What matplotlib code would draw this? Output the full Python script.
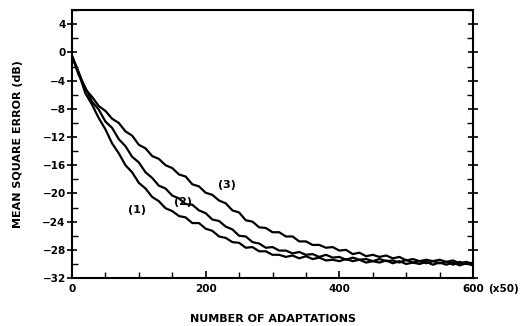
import matplotlib
matplotlib.use("Agg")
from matplotlib import pyplot as plt
from matplotlib.ticker import MultipleLocator

# adaptations (x50)
adaptations = list(range(0, 601, 10))

# mean square error (dB)
mse_1 = [-0.5, -2.9, -5.8, -7.4, -9.3, -10.9, -12.9, -14.3, -16.0, -17.0,
         -18.5, -19.3, -20.5, -21.1, -22.1, -22.5, -23.2, -23.4, -24.2, -24.2,
         -25.0, -25.3, -26.1, -26.3, -26.9, -27.0, -27.7, -27.6, -28.2, -28.2,
         -28.7, -28.7, -29.0, -28.8, -29.2, -28.9, -29.3, -29.1, -29.5, -29.4,
         -29.6, -29.3, -29.6, -29.4, -29.8, -29.6, -29.8, -29.5, -29.9, -29.6,
         -30.0, -29.8, -30.0, -29.7, -30.1, -29.8, -30.1, -29.8, -30.2, -29.9,
         -30.2]
mse_2 = [-0.5, -3.2, -5.0, -7.0, -8.1, -9.8, -10.7, -12.3, -13.3, -14.8,
         -15.6, -17.0, -17.8, -18.9, -19.3, -20.3, -20.7, -21.5, -21.6, -22.4,
         -22.8, -23.7, -23.9, -24.7, -25.1, -26.0, -26.1, -26.9, -27.1, -27.7,
         -27.6, -28.1, -28.1, -28.5, -28.3, -28.7, -28.6, -29.0, -28.7, -29.1,
         -29.0, -29.4, -29.1, -29.4, -29.3, -29.6, -29.3, -29.6, -29.5, -29.8,
         -29.4, -29.8, -29.6, -29.9, -29.6, -29.9, -29.7, -30.1, -29.7, -30.0,
         -29.8]
mse_3 = [-0.5, -2.8, -5.2, -6.3, -7.6, -8.3, -9.4, -10.0, -11.2, -11.8,
         -13.1, -13.6, -14.7, -15.1, -16.0, -16.4, -17.3, -17.6, -18.7, -19.0,
         -19.9, -20.2, -21.0, -21.4, -22.4, -22.7, -23.8, -24.0, -24.8, -24.9,
         -25.5, -25.5, -26.1, -26.1, -26.8, -26.8, -27.3, -27.3, -27.7, -27.6,
         -28.1, -28.0, -28.6, -28.4, -28.9, -28.7, -29.0, -28.8, -29.2, -29.0,
         -29.5, -29.3, -29.6, -29.4, -29.6, -29.4, -29.7, -29.5, -29.9, -29.7,
         -30.0]

curve_labels = ["(1)", "(2)", "(3)"]
y_ticks = [4, 0, -4, -8, -12, -16, -20, -24, -28, -32]
x_ticks = [0, 200, 400, 600]

plt.rcParams["font.family"] = ["DejaVu Sans"]
plt.rcParams["font.weight"] = "bold"
plt.rcParams["axes.labelweight"] = "bold"

fig = plt.figure(figsize=(5.27, 3.26), dpi=100)
ax = fig.add_axes([0.1366, 0.147, 0.761, 0.822])

for values in (mse_1, mse_2, mse_3):
    ax.plot(adaptations, values, color="black", linewidth=1.6)

ax.set_xlim(0, 600)
ax.set_ylim(-32, 6)

ax.set_yticks(y_ticks)
ax.set_yticklabels([f"{v}".replace("-", "\u2212") for v in y_ticks])
ax.yaxis.set_minor_locator(MultipleLocator(2))
ax.set_xticks(x_ticks)
ax.set_xticklabels([str(v) for v in x_ticks])
ax.xaxis.set_minor_locator(MultipleLocator(50))

ax.tick_params(axis="y", which="major", direction="inout", length=7, width=1.2,
               labelsize=7.5, pad=1, right=True)
ax.tick_params(axis="y", which="minor", direction="in", length=4, width=1.0,
               right=True)
ax.tick_params(axis="x", which="major", direction="in", length=5, width=1.2,
               labelsize=7.5, pad=4)
ax.tick_params(axis="x", which="minor", direction="in", length=4, width=1.0)
for s in ax.spines.values():
    s.set_linewidth(1.5)

# curve labels
ax.text(97, -22.3, curve_labels[0], fontsize=8, ha="center", va="center")
ax.text(166, -21.2, curve_labels[1], fontsize=8, ha="center", va="center")
ax.text(232, -18.8, curve_labels[2], fontsize=8, ha="center", va="center")

ax.annotate("(x50)", xy=(1, 0), xycoords="axes fraction",
            xytext=(11, -4), textcoords="offset points",
            fontsize=7.5, ha="left", va="top")

ax.set_xlabel("NUMBER OF ADAPTATIONS", fontsize=8, labelpad=15)
ax.set_ylabel("MEAN SQUARE ERROR (dB)", fontsize=8, labelpad=14)

plt.savefig("out.png", dpi=100)
